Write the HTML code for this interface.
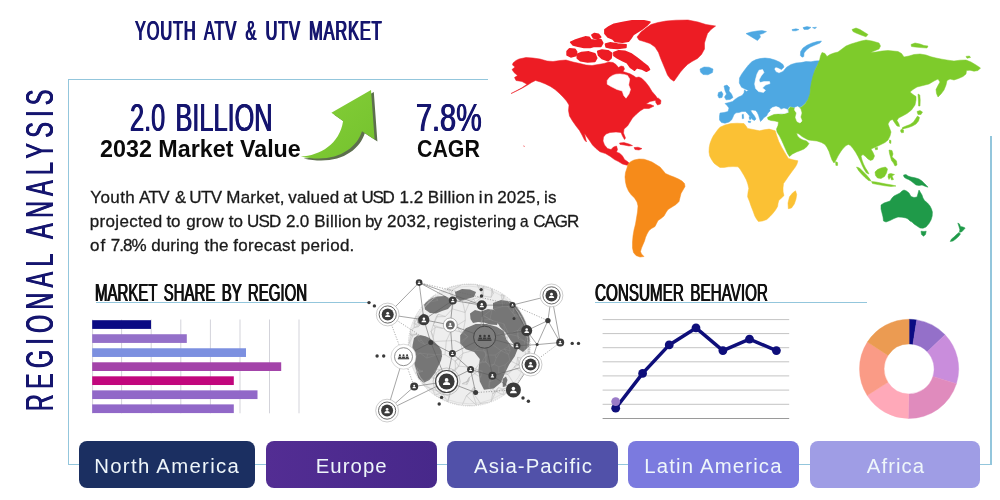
<!DOCTYPE html>
<html lang="en">
<head>
<meta charset="utf-8">
<title>Youth ATV &amp; UTV Market - Regional Analysis</title>
<style>
html,body{margin:0;padding:0;background:#fff}
body{font-family:"Liberation Sans",sans-serif}
#page{position:relative;width:1000px;height:500px;overflow:hidden;background:#fff}
.abs{position:absolute;display:block}
.ln{position:absolute;background:#93c6dc}
.t{position:absolute;margin:0;padding:0;white-space:nowrap;line-height:1;font-weight:400;transform-origin:0 0}
.cond{text-shadow:0.65px 0 0 currentColor,-0.65px 0 0 currentColor}
.c1{text-shadow:1px 0 0 currentColor,-1px 0 0 currentColor}
.cond2{text-shadow:0.6px 0 0 currentColor,-0.6px 0 0 currentColor}
.para{position:absolute;left:0;top:0;margin:0;width:600px;height:0}
.pl{-webkit-text-stroke:0.3px #1a1a1a}
.btn{position:absolute;top:441px;height:46.7px;border-radius:8px}
</style>
</head>
<body>
<div id="page">
<div class="ln" style="left:68px;top:78.7px;width:419.5px;height:1.25px"></div>
<div class="ln" style="left:67.95px;top:78.7px;width:1.25px;height:386.4px"></div>
<div class="ln" style="left:67.95px;top:463.9px;width:923.6px;height:1.25px"></div>
<div class="ln" style="left:990.3px;top:136px;width:1.25px;height:329.1px"></div>
<h1 class="t cond c1" style="left:135.24px;top:16.00px;font-size:28.34px;color:#15156f;transform:scaleX(0.5745);letter-spacing:1.600px;word-spacing:5px;">YOUTH ATV &amp; UTV MARKET</h1>
<div class="t cond vert" style="left:0;top:0;font-size:38.95px;letter-spacing:8.738px;color:#15156f;transform:translate(21.42px,411.05px) rotate(-90deg) scaleX(0.6000);">REGIONAL ANALYSIS</div>
<div class="t cond" style="left:129.60px;top:99.00px;font-size:38.95px;color:#15156f;transform:scaleX(0.6502);word-spacing:5px;">2.0 BILLION</div>
<div class="t " style="left:100.26px;top:138.00px;font-size:23.26px;color:#0a0a0a;transform:scaleX(1.0023);font-weight:700;">2032 Market Value</div>
<div class="t cond" style="left:415.73px;top:98.00px;font-size:39.24px;color:#15156f;transform:scaleX(0.7357);">7.8%</div>
<div class="t " style="left:417.25px;top:138.00px;font-size:23.26px;color:#0a0a0a;transform:scaleX(0.9185);font-weight:700;">CAGR</div>
<p class="para"><span class="t pl" style="left:90.30px;top:189.00px;font-size:17.01px;color:#1a1a1a;letter-spacing:0.383px;">Youth</span> <span class="t pl" style="left:139.12px;top:189.00px;font-size:17.01px;color:#1a1a1a;letter-spacing:-0.680px;">ATV</span> <span class="t pl" style="left:174.80px;top:189.00px;font-size:17.01px;color:#1a1a1a;transform:scaleX(0.9772);">&amp;</span> <span class="t pl" style="left:189.35px;top:189.00px;font-size:17.01px;color:#1a1a1a;letter-spacing:-0.615px;">UTV</span> <span class="t pl" style="left:226.29px;top:189.00px;font-size:17.01px;color:#1a1a1a;letter-spacing:0.237px;">Market,</span> <span class="t pl" style="left:288.31px;top:189.00px;font-size:17.01px;color:#1a1a1a;letter-spacing:0.165px;">valued</span> <span class="t pl" style="left:343.30px;top:189.00px;font-size:17.01px;color:#1a1a1a;letter-spacing:-0.165px;">at</span> <span class="t pl" style="left:361.56px;top:189.00px;font-size:17.01px;color:#1a1a1a;letter-spacing:-1.285px;">USD</span> <span class="t pl" style="left:399.54px;top:189.00px;font-size:17.01px;color:#1a1a1a;letter-spacing:0.064px;">1.2</span> <span class="t pl" style="left:427.78px;top:189.00px;font-size:17.01px;color:#1a1a1a;letter-spacing:0.278px;">Billion</span> <span class="t pl" style="left:478.65px;top:189.00px;font-size:17.01px;color:#1a1a1a;letter-spacing:1.379px;">in</span> <span class="t pl" style="left:497.16px;top:189.00px;font-size:17.01px;color:#1a1a1a;letter-spacing:0.180px;">2025,</span> <span class="t pl" style="left:544.04px;top:189.00px;font-size:17.01px;color:#1a1a1a;letter-spacing:0.246px;">is</span> <span class="t pl" style="left:89.75px;top:213.00px;font-size:17.01px;color:#1a1a1a;letter-spacing:0.325px;">projected</span> <span class="t pl" style="left:166.44px;top:213.00px;font-size:17.01px;color:#1a1a1a;letter-spacing:-0.116px;">to</span> <span class="t pl" style="left:186.20px;top:213.00px;font-size:17.01px;color:#1a1a1a;letter-spacing:0.172px;">grow</span> <span class="t pl" style="left:228.67px;top:213.00px;font-size:17.01px;color:#1a1a1a;letter-spacing:0.115px;">to</span> <span class="t pl" style="left:246.89px;top:213.00px;font-size:17.01px;color:#1a1a1a;letter-spacing:-0.690px;">USD</span> <span class="t pl" style="left:285.99px;top:213.00px;font-size:17.01px;color:#1a1a1a;letter-spacing:-0.154px;">2.0</span> <span class="t pl" style="left:314.29px;top:213.00px;font-size:17.01px;color:#1a1a1a;letter-spacing:0.250px;">Billion</span> <span class="t pl" style="left:364.98px;top:213.00px;font-size:17.01px;color:#1a1a1a;letter-spacing:-0.653px;">by</span> <span class="t pl" style="left:386.88px;top:213.00px;font-size:17.01px;color:#1a1a1a;letter-spacing:0.348px;">2032,</span> <span class="t pl" style="left:433.69px;top:213.00px;font-size:17.01px;color:#1a1a1a;letter-spacing:0.317px;">registering</span> <span class="t pl" style="left:519.98px;top:213.00px;font-size:17.01px;color:#1a1a1a;transform:scaleX(0.9044);">a</span> <span class="t pl" style="left:533.14px;top:213.00px;font-size:17.01px;color:#1a1a1a;letter-spacing:-0.993px;">CAGR</span> <span class="t pl" style="left:89.99px;top:237.00px;font-size:17.01px;color:#1a1a1a;letter-spacing:0.997px;">of</span> <span class="t pl" style="left:110.76px;top:237.00px;font-size:17.01px;color:#1a1a1a;letter-spacing:-0.949px;">7.8%</span> <span class="t pl" style="left:151.31px;top:237.00px;font-size:17.01px;color:#1a1a1a;letter-spacing:0.079px;">during</span> <span class="t pl" style="left:204.50px;top:237.00px;font-size:17.01px;color:#1a1a1a;letter-spacing:0.185px;">the</span> <span class="t pl" style="left:233.32px;top:237.00px;font-size:17.01px;color:#1a1a1a;letter-spacing:0.255px;">forecast</span> <span class="t pl" style="left:300.73px;top:237.00px;font-size:17.01px;color:#1a1a1a;letter-spacing:0.274px;">period.</span></p>
<h2 class="t cond2" style="left:95.11px;top:282.00px;font-size:23.26px;color:#111;transform:scaleX(0.6451);word-spacing:3.5px;">MARKET SHARE BY REGION</h2>
<div class="ln" style="left:95.5px;top:301.7px;width:272.5px;height:1.3px"></div>
<h2 class="t cond2" style="left:594.64px;top:282.00px;font-size:23.26px;color:#111;transform:scaleX(0.6548);word-spacing:3.5px;">CONSUMER BEHAVIOR</h2>
<div class="ln" style="left:595px;top:301.7px;width:271.5px;height:1.3px"></div>
<svg class="abs" style="left:85px;top:315px" width="225" height="104" viewBox="85 315 225 104"><line x1="92.6" y1="319.5" x2="92.6" y2="413.3" stroke="#d3d3da" stroke-width="1"/><line x1="121.6" y1="319.5" x2="121.6" y2="413.3" stroke="#d3d3da" stroke-width="1"/><line x1="151.2" y1="319.5" x2="151.2" y2="413.3" stroke="#d3d3da" stroke-width="1"/><line x1="180.8" y1="319.5" x2="180.8" y2="413.3" stroke="#d3d3da" stroke-width="1"/><line x1="210.4" y1="319.5" x2="210.4" y2="413.3" stroke="#d3d3da" stroke-width="1"/><line x1="240" y1="319.5" x2="240" y2="413.3" stroke="#d3d3da" stroke-width="1"/><line x1="269.5" y1="319.5" x2="269.5" y2="413.3" stroke="#d3d3da" stroke-width="1"/><line x1="299" y1="319.5" x2="299" y2="413.3" stroke="#d3d3da" stroke-width="1"/><rect x="92.2" y="320.20" width="58.8" height="8.7" fill="#0b0b83"/><rect x="92.2" y="334.23" width="94.6" height="8.7" fill="#9470c9"/><rect x="92.2" y="348.26" width="153.8" height="8.7" fill="#7c90e0"/><rect x="92.2" y="362.29" width="189.0" height="8.7" fill="#a343a9"/><rect x="92.2" y="376.32" width="141.6" height="8.7" fill="#c1077d"/><rect x="92.2" y="390.35" width="165.3" height="8.7" fill="#9168c8"/><rect x="92.2" y="404.38" width="141.6" height="8.7" fill="#9168c8"/></svg>
<svg class="abs" style="left:598px;top:312px" width="200" height="112" viewBox="598 312 200 112"><line x1="602.6" y1="319.6" x2="789.2" y2="319.6" stroke="#c4c4c4" stroke-width="1"/><line x1="602.6" y1="333.6" x2="789.2" y2="333.6" stroke="#c4c4c4" stroke-width="1"/><line x1="602.6" y1="347.7" x2="789.2" y2="347.7" stroke="#c4c4c4" stroke-width="1"/><line x1="602.6" y1="361.8" x2="789.2" y2="361.8" stroke="#c4c4c4" stroke-width="1"/><line x1="602.6" y1="375.9" x2="789.2" y2="375.9" stroke="#c4c4c4" stroke-width="1"/><line x1="602.6" y1="390.1" x2="789.2" y2="390.1" stroke="#c4c4c4" stroke-width="1"/><line x1="602.6" y1="404.3" x2="789.2" y2="404.3" stroke="#c4c4c4" stroke-width="1"/><line x1="602.6" y1="418.5" x2="789.2" y2="418.5" stroke="#9a9a9a" stroke-width="1"/><polyline fill="none" stroke="#0e0e7a" stroke-width="3.5" stroke-linejoin="round" points="615.7,408.2 642.6,373.4 669.2,344.9 696,327.9 722.9,350.6 749.5,339.1 776.4,350.6"/><circle cx="615.7" cy="408.2" r="4.4" fill="#0e0e7a"/><circle cx="642.6" cy="373.4" r="4.4" fill="#0e0e7a"/><circle cx="669.2" cy="344.9" r="4.4" fill="#0e0e7a"/><circle cx="696" cy="327.9" r="4.4" fill="#0e0e7a"/><circle cx="722.9" cy="350.6" r="4.4" fill="#0e0e7a"/><circle cx="749.5" cy="339.1" r="4.4" fill="#0e0e7a"/><circle cx="776.4" cy="350.6" r="4.4" fill="#0e0e7a"/><circle cx="615.7" cy="401.6" r="4.4" fill="#9a7bc8"/></svg>
<svg class="abs" style="left:855px;top:315px" width="110" height="110" viewBox="855 315 110 110"><path d="M909.10 319.30A49.6 49.6 0 0 1 916.69 319.88L912.92 344.19A25.0 25.0 0 0 0 909.10 343.90Z" fill="#0b0b83" stroke="#0b0b83" stroke-width="0.4"/><path d="M916.69 319.88A49.6 49.6 0 0 1 945.08 334.76L927.23 351.69A25.0 25.0 0 0 0 912.92 344.19Z" fill="#9470c9" stroke="#9470c9" stroke-width="0.4"/><path d="M945.08 334.76A49.6 49.6 0 0 1 956.40 383.82L932.94 376.42A25.0 25.0 0 0 0 927.23 351.69Z" fill="#c98ddc" stroke="#c98ddc" stroke-width="0.4"/><path d="M956.40 383.82A49.6 49.6 0 0 1 908.23 418.49L908.66 393.90A25.0 25.0 0 0 0 932.94 376.42Z" fill="#e08bbd" stroke="#e08bbd" stroke-width="0.4"/><path d="M908.23 418.49A49.6 49.6 0 0 1 867.22 395.48L887.99 382.30A25.0 25.0 0 0 0 908.66 393.90Z" fill="#ffa9b9" stroke="#ffa9b9" stroke-width="0.4"/><path d="M867.22 395.48A49.6 49.6 0 0 1 867.36 342.10L888.06 355.39A25.0 25.0 0 0 0 887.99 382.30Z" fill="#fa9b86" stroke="#fa9b86" stroke-width="0.4"/><path d="M867.36 342.10A49.6 49.6 0 0 1 909.10 319.30L909.10 343.90A25.0 25.0 0 0 0 888.06 355.39Z" fill="#eb9b52" stroke="#eb9b52" stroke-width="0.4"/></svg>
<svg class="abs" style="left:500px;top:10px" width="500" height="255" viewBox="500 10 500 255"><path d="M513 63L516 60.5L519 59L526 57.5L533 58L540 59L547 61L553 61.5L560 60.5L566 60L573 62L580 63.5L586 65L592 65.5L598 64.5L604 63.5L609 62L613 62.5L616 64.5L618.5 67.5L621 66L623.5 66.5L624.5 69L623 71.5L626 72.5L630 73.8L634 76L636 77.5L639 77L642 78.5L645.5 82L649 86.5L652 91.5L655.5 95.5L658 99L655 100.5L650 101.5L646 104L650.5 104.5L654 106L649 108.5L644 108.5L640 111L636 114.5L632.5 118L630 122L627.5 126L624 129L623.5 133L625.5 138L624.5 139.5L622.5 136L621 132.5L616 132L610 132.5L606 134L603.5 137L603 141L604.5 145L607.5 148.5L611 149.5L613.5 147L616.5 146L617.5 149.5L616.5 152L620 153.4L622.5 156L624.5 159.4L628 162L630 164L627 165.2L622.5 164L618.5 161.6L614.5 159.6L610 156.2L605.5 153.6L600 151.8L596 148.5L592.5 145L589.5 140.5L587 137L584.5 133.5L585.5 138L586.5 142L584.5 140L582 135L579.5 130.5L576 126L572.5 121L569.5 116L568.5 110.5L569 105L566.5 101L563 97L559 93L555 89.5L550.5 86.5L545.5 84L540.5 82L535.5 80.5L531.5 82.5L528 84.8L522 88.2L516 91.2L511 93.6L516 91L522 87.8L527 84.2L522 81.5L516 80.5L514.5 77.5L517.5 75.5L514 72.5L512 69.5L515 67L512.5 65Z" fill="#ed1c24" stroke="#ed1c24" stroke-width="0.5" stroke-linejoin="round"/><path d="M605 29.8L609.2 26.8L614 24.4L622.4 22.6L632 21L644 21L649.8 22.2L646.4 25.6L641.6 29.2L636.8 32.2L633.2 34.6L630.8 38.2L628.4 41.2L622.4 42.2L615.2 41.4L612.8 38.8L608 37L605 33.4ZM605.6 44.2L610.4 42.9L617.6 44.2L626 44.8L625.8 47.4L617.6 48.4L610.4 47.8L606.2 46.8ZM570.8 42.2L575.6 40L581.6 38.2L585.2 37L589 37.4L591 40L595 40.5L600.8 39.6L602.6 43L600.8 46.4L593.6 46.4L590 47.4L584 47.4L578 46.2L573.2 44.8ZM592 35L594.5 33.6L598.4 34.4L600.6 37L597.5 38.6L593.5 37.8ZM567.2 51.4L569.6 49L575 49.4L576.6 52L575.4 55.6L570.8 56.8L567.2 55ZM577.4 54.4L581.6 52.6L588.8 52L594.8 53.8L596.6 58L594.8 61.4L587.6 61.8L580.4 60.6L577.4 58ZM597.8 51.4L602 50.2L608 50.8L611.6 53.2L611 58L608 60.6L602 58.4L598.6 55ZM614 52.6L618.8 50.8L624.8 51.4L630.8 53.8L636.8 58L642.8 62.8L647.6 66.4L649.4 69.4L646.4 71.2L641.6 68.8L636.8 67.6L634.4 70L630.8 67.6L627.2 62.8L622.4 60.4L617.6 58L614 55.6Z" fill="#ed1c24" stroke="#ed1c24" stroke-width="1.8" stroke-linejoin="round"/><path d="M655.5 99L658.5 98.2L661 100.5L660.5 104L657.5 105L655.8 102.5ZM637 37L641 32L646 28L651 24.5L658 22.5L666 21L676 20.2L688 20L698 22L706 24.5L715.6 26L711 29.5L707.5 33.5L706 38L704.5 43L704.5 49L701.5 54.5L697.5 58.5L692 61.5L687.5 64.5L684 68L680.5 72L677 77L674 81.2L670.5 79L667.5 75L665.5 70L663 64L660.5 58L658.5 52.5L655 47L650 43.5L644 41.5L639 40ZM619.5 143L624 142.6L629 144L632.5 145.6L629 146L624 145L620 144.4ZM634 147.6L638 147.2L642 148.6L639 150L635 149.5Z" fill="#ed1c24" stroke="#ed1c24" stroke-width="0.5" stroke-linejoin="round"/><path d="M523.6 145.6L524.6 146.2L524 146.8Z" fill="#ed1c24" stroke="#ed1c24" stroke-width="0.2" stroke-linejoin="round"/><path d="M607.2 80.5L609.5 77.5L612.5 75.4L616 74.2L620 73.9L624 74.4L627.5 75.4L629.7 79L628.7 85L630.5 89.5L629 94L626 98.2L623.7 95.5L622.2 91L617 89.5L611 86.5L607.2 84.2Z" fill="#ffffff" stroke="#ffffff" stroke-width="0.5" stroke-linejoin="round"/><path d="M628 164L631 161.5L634 160L639 159L644 159.2L648 160.5L652 162L656 164.5L660 167L663 170.5L665.5 173.5L670 175.5L674 177L678.5 179L682 181L684.5 183.5L685 186.5L683 190L681 193.5L680 197.5L679 201.5L676 204.5L672 207L668 209.5L666 212.5L664 216L661 218.5L658 220.5L656.5 223.5L655 226.5L651.5 228.5L649 230.5L647 234L645.5 237.5L644.5 241L643 244.5L641.5 248L640.5 251.5L641.5 254L644 256.5L640 257L636 255.5L633.5 252.5L632.5 248L632.5 242L633 236L634 230L635.5 224L636.5 218L637.5 212L638 206L637 202L634.5 198L631 194.5L628.5 191L626.5 186.5L625.5 182L625 177L625.5 172.5L627 168Z" fill="#f68b1a" stroke="#f68b1a" stroke-width="0.5" stroke-linejoin="round"/><path d="M752 61.6L756 59.6L760 58.6L765 58L770 58.6L775 60L779.5 62L783 64.5L784 67L781.5 69.6L778.5 68L775.8 67L774.2 69L776 72L779 73.2L783 71.5L786.6 67.2L791 64.5L796 63L801 62.6L806 61.6L811 61.8L815 61L819.9 60.7L817.5 65L815 70L813.5 76L812 82L811 88L810.2 94L808.5 99L805 103.5L801.5 106.5L797.5 108L793.5 107.5L790 106.5L788 108.5L788.5 112L785 113L781 113.5L777 112.5L773.5 111L771 110L768 113L766.5 116L764 117.5L762.5 119.5L760.5 121.5L759.5 118.5L758.5 115L757 112L755.5 110.5L752.5 110L750.5 110.5L752.5 113.5L754.5 116L756 119L754.5 120.5L752.5 119.5L750 116.5L747.5 113.5L745.5 111.5L742 111.5L739 112.5L736 112.8L734 114.5L733 117L731.5 120L729 122L725 123.2L721.5 122.5L719.5 120L719.5 116L720 113L724 112.5L728 111.5L729 108L727 105.5L725 103.5L729 102.5L732.5 101.5L735.5 99L738.5 97L742 95.5L744 93L744.5 89.8L746.3 91.6L748.5 90.6L745.5 89.2L741.5 87.2L739.3 83L739.5 78L741.6 74.2L745 69.5L748.5 65Z" fill="#4ea8e2" stroke="#4ea8e2" stroke-width="0.5" stroke-linejoin="round"/><path d="M759 70.2L762.6 69.6L764 72.5L761.2 76L759 80L760 82.6L764 81.6L769.5 81.6L770 83.6L765.5 85L762.5 88L765.5 90.2L763.5 92.4L758.5 91.6L755.6 88.6L754.6 84L755.6 79L757 74Z" fill="#ffffff" stroke="#ffffff" stroke-width="0.5" stroke-linejoin="round"/><path d="M749 116.6L750.8 117L751.2 119.4L749.4 119.6ZM748 121L751 121.2L750.4 122.8L748.4 122.4ZM742 114.4L743.5 114.2L743.8 118.6L742.2 118.8Z" fill="#4ea8e2" stroke="#4ea8e2" stroke-width="0.3" stroke-linejoin="round"/><path d="M724 86L727 85L729.5 87.5L729 91L731.5 94L733 97.5L730 99.5L726 99.8L724.5 97L726.5 94L725 90.5ZM718.5 92.5L721.5 91.5L723 94L722 97.5L719 98L717.8 95.5ZM700 69L704 67L709 67.2L713 69L712.5 72.5L708 74.8L703 74.5L700.5 72ZM746 33.6L751 32L757 31L762 30.6L766.5 31.6L763 33.6L759.5 34.4L760.5 37L757.5 40.6L754 38.4L750 36ZM792 29.6L796 28.8L799 29.6L796 30.8L792.5 30.8ZM803 27.6L807 26.6L811 27.4L808 29.4L804 29.4ZM812.5 27.6L816.5 27.2L815 28.8ZM800.4 55.5L800.6 51.5L803 48L807 45.2L812 43L817 41.6L821.5 41L820 43L815 45L810 47.2L806.4 50L804 53L803.8 56.6L802 57.2Z" fill="#4ea8e2" stroke="#4ea8e2" stroke-width="0.5" stroke-linejoin="round"/><path d="M720 127.2L725 125L730.8 123.6L737 123.2L744 123.6L746 126L747.6 128.4L753 129.5L759.6 130.8L764 129.8L769.2 129.1L775.2 130.8L776.5 135L778.8 141.6L781.5 147L784.7 152.4L786.5 155.5L788.4 158.4L793 159.8L797.9 160.8L797 164L795.5 166.8L792 171.5L788.4 176.4L786 180L783.5 183.6L783 188L783.1 192L784 195.6L781.5 198L778.8 200.4L778 203.5L777.6 206.4L775.5 210L772.8 213.5L770 216.5L766.8 219.5L762.5 221L758.4 221.5L756.5 219L754.8 216L753 211L751.2 206.4L749.5 201.5L747.6 196.8L748 192.5L748.8 188.4L747.8 184L746.4 180L744 175.5L741.6 171.6L740 169L738 166.8L733 166.6L728.4 166.8L724 167.4L720 167.5L717 165.5L714 163.2L711.5 159.5L709.7 156L709 152L709.2 147.6L710 143.5L711.6 139.2L713.2 136L715.2 133.2L717.5 130ZM788.3 208.7L788 203L789.5 196.8L792.5 193L795.5 190.8L796.7 194.4L796 199L794.3 204L791.5 208Z" fill="#fbc134" stroke="#fbc134" stroke-width="0.5" stroke-linejoin="round"/><path d="M819.5 60.5L820.5 56L822 52.5L825 53.5L827 56.5L830 54.5L834 53L838 52L842 49L846 46L851 44L856 42.5L861 41L866 40L872 41L879 43L880.5 46L879 49L874 51L870.5 52.5L876 52L882 51L888 50.5L893 51L898 51.5L901.5 53.5L904 57L909 56L914 54.5L920 54L926 55L931 56.8L936 58L942 59.2L948 60.2L954 61L960 60.2L966 60L971 62L976 65L980.5 68L978 70.5L974 71.2L970 70.2L966.5 70.5L966 74L963 76.5L958.5 78.5L954 80L950 79L947 80.5L946 85L944 90L941 94L938 97L936.5 93.5L936 89.5L938 85.5L940 82L938 79L934 81L929 84L923 85.5L917 87L913 89.5L910 92L913 94.5L916 96.5L916 100L915 105L911.5 110L907 113.5L902.5 116L898.5 118L897 120.5L899 124L899.5 126.5L897 126L894.5 122.5L892.5 119.5L890 120.5L888 124L889.5 128L891 132L890 136L888 140L885 142.5L882 144L878 146L874.5 147.5L871 149L873 152.5L874.5 156L873 159.5L870.5 160.5L868 159L865.5 156.5L863 154.5L861 156L862 160L863.5 164L865.5 168L867.5 171L869 174L866.5 173L864.2 169.5L862.2 165.5L860.3 161L858 156.5L855.6 152.2L853 148.5L850.5 145.6L848.5 144.4L846 145.6L843 148.5L840.5 152L838 156L836 160L834 163L832 160L830.5 156L829 151.5L827 147.5L825 144.5L821.5 142.5L817 141L812.5 140.5L808.5 140L805.5 138.5L802 136.5L799 134L796.5 133L797.5 136L800 138.5L803 140L806.5 141L809 143.5L807 146.5L804 149L800.5 150.5L796.5 152L792.5 154L789.5 156.5L787.5 153.5L785.5 149L783.5 144.5L781.5 140L779.5 136L777 132L776.5 129L778 125.5L778.5 122L775 121L771 120.5L768 119.5L767.5 117.5L770.5 116L774 114.5L778 114L782 114.2L786 113.5L789 112.5L788.5 109L790.5 107L794 108L797.5 108.5L801.5 107L805 104L808 99.5L810 94L810.5 88L811.5 82L813 76L815 70L817.5 65Z" fill="#7ecb2b" stroke="#7ecb2b" stroke-width="0.5" stroke-linejoin="round"/><path d="M770 109.5L772.5 107.5L776 106.6L779 107.6L781 109.4L784 108.4L787.5 109.6L788 112.2L784.5 113.4L780 113.6L775.5 113L772 112ZM795 107.5L798 106.5L800.5 109L801.5 113L800.5 117L802 121L800 123L797 121.5L795.5 117.5L796.5 113L794.5 110Z" fill="#ffffff" stroke="#ffffff" stroke-width="0.5" stroke-linejoin="round"/><path d="M852 29.5L856 28L860 29.5L864 32L868 34.5L866 36.8L861 35L856 33L853 31.5ZM911 44.5L915 43L920 44L924 45.5L928 46L927 48L921 47.6L915 47L911.5 46.5ZM966 56.4L969.5 56L970.5 57.5L967 58.2ZM918 94L919.8 95L920.2 100L920 106L918.6 106L918.4 100ZM917 111.5L920 110.5L922.5 112L921 114.5L918 114.5ZM917.5 116L919.5 117.5L918.5 121L916 124L912.5 126L908.5 127.5L904.5 128.5L902 129.5L902.5 127.5L906 126L910 124.5L913.5 122L915.5 119ZM901 129.5L903.5 130L903.5 132.5L901.5 132.8L900.5 131ZM889.5 140L891 140.5L890.8 143.5L889.5 143ZM875 147.8L877.5 147.5L877.5 149.5L875.5 149.8ZM889 150L892 150.5L893 154L892 157L894 158.5L896.5 161L897 165L895 166L893.5 163L891.5 160.5L890.5 157L889.5 153.5ZM856.5 167L859.5 168L863 171.5L866.5 175L869.5 178.5L871 181L868.5 180.5L865 177.5L861.5 174L858.5 170.5ZM871.5 181.5L876 182L881 183L886 184L892 185L896 186L891 186.5L885 185.8L878 184.6L872.5 183.5ZM875 172L877.5 169.5L881 168L885.5 167L887.5 169L886.5 173L884.5 176.5L881 178.5L877.5 178L875.5 175.5ZM888.5 174L891 173.5L894.5 174.5L892 176L893.5 179.5L891.5 180L890.5 177L889 179.5L888 177ZM835.5 161.6L837.6 162.6L837.6 165.4L835.9 165.4Z" fill="#7ecb2b" stroke="#7ecb2b" stroke-width="0.5" stroke-linejoin="round"/><path d="M881 205L884 203L887 202L890 201L892 198L894 196L897 194.5L900 193L902 191L904 190L906.5 191L909 193L911 196.5L914 197.5L917 197L918 193.5L919 190L920.5 192.5L922 195L923 198L924.5 200.5L927.5 203L930 206L931.5 209L932.4 212L932.2 216L931 220L929 223.5L926 227L923 228.2L920 228L917 226L914 224L912 222L910 221L908 219L906 218L902 217.2L898 217L894 218.5L890 220.5L886 222L883.5 221L883 217L882 213L881 209ZM921 231.2L924 231.5L926.2 231.2L925.5 234.5L923.5 236.2L921.5 234.5ZM903.5 175L906 174.6L908 176L911 177L915 177.8L919 179L922 181L924.5 183.5L926.5 185.5L928 187.2L925 186.2L922 185L919 185.5L916 185L913.5 183L911 181L908.5 179.5L906 178.5L904 177ZM957.8 223L959.5 224L960.5 226.5L963 227L965.2 228L963.5 230L961.5 232L959.5 232.2L959.8 229.5L958.8 226ZM959 232.5L960.5 234L958.5 236.5L956 238.8L953 241L950.2 241.5L951.5 239L954 237L956.5 234.5Z" fill="#1f9a49" stroke="#1f9a49" stroke-width="0.5" stroke-linejoin="round"/></svg>
<svg class="abs" style="left:295px;top:84px" width="90" height="82" viewBox="295 84 90 82">
<defs><linearGradient id="ag" x1="0" y1="0" x2="1" y2="1"><stop offset="0" stop-color="#86cf38"/><stop offset="1" stop-color="#74c22e"/></linearGradient></defs>
<path d="M300.8 156.5C320 155.6 339.6 144.2 343.1 121L331.4 112.8L371 89.9L374.6 139.4L362 131.3C356 150 334 164 300.8 156.5Z" fill="#5d6f4d" transform="translate(2.8 2)"/>
<path d="M300.8 156.5C320 155.6 339.6 144.2 343.1 121L331.4 112.8L371 89.9L374.6 139.4L362 131.3C356 150 334 164 300.8 156.5Z" fill="url(#ag)"/>
</svg>

<svg class="abs" style="left:365px;top:275px" width="225" height="155" viewBox="365 275 225 155"><defs><clipPath id="gc"><circle cx="469.3" cy="345.0" r="60.7"/></clipPath></defs><circle cx="469.3" cy="345.0" r="61.0" fill="#eeeeee"/><g clip-path="url(#gc)"><path d="M458.7 366.2L455.5 370.3M458.7 366.2L455.2 361.1M458.7 366.2L466.5 366.8M459.7 331.7L463.0 332.3M459.7 331.7L457.0 325.5M459.7 331.7L451.6 329.6M433.3 336.8L433.9 341.5M433.3 336.8L431.1 331.5M433.3 336.8L435.3 327.1M509.9 360.5L508.4 354.4M509.9 360.5L505.1 364.8M509.9 360.5L516.7 364.0M508.4 354.4L510.3 350.9M508.4 354.4L504.2 349.0M485.9 352.8L486.0 355.0M485.9 352.8L483.9 351.0M485.9 352.8L485.9 362.0M420.0 370.3L417.9 372.3M420.0 370.3L423.1 371.1M420.0 370.3L418.0 372.9M489.8 365.2L490.2 367.0M489.8 365.2L494.2 364.2M489.8 365.2L485.9 362.0M428.0 302.4L428.1 304.3M428.0 302.4L423.6 304.5M428.0 302.4L432.7 296.5M435.3 327.1L433.2 325.2M435.3 327.1L431.1 331.5M435.3 327.1L442.8 328.4M482.3 343.0L490.1 342.4M482.3 343.0L483.9 351.0M482.3 343.0L485.9 352.8M490.0 319.5L493.5 320.9M490.0 319.5L483.5 315.7M490.0 319.5L482.2 320.1M482.2 361.5L479.6 363.2M482.2 361.5L485.9 362.0M482.2 361.5L486.0 355.0M449.5 396.4L447.7 402.0M449.5 396.4L442.2 392.4M449.5 396.4L451.0 387.9M488.9 387.2L489.0 382.1M488.9 387.2L492.8 393.8M488.9 387.2L496.0 391.5M445.4 316.5L438.2 314.3M445.4 316.5L436.3 316.8M445.4 316.5L452.4 308.9M454.7 340.5L459.6 342.3M454.7 340.5L461.0 343.8M454.7 340.5L446.3 340.9M495.1 355.1L496.2 358.2M495.1 355.1L501.0 350.6M495.1 355.1L486.0 355.0M452.4 308.9L453.5 300.7M452.4 308.9L465.1 312.5M451.0 387.9L449.1 384.0M451.0 387.9L442.2 392.4M437.3 354.7L445.0 354.6M437.3 354.7L427.8 354.0M437.3 354.7L426.7 358.1M483.3 296.0L481.5 288.5M483.3 296.0L491.1 297.3M483.3 296.0L483.7 286.6M471.0 391.2L472.1 391.6M471.0 391.2L473.7 387.2M471.0 391.2L475.7 388.4M412.9 336.0L411.2 335.2M412.9 336.0L409.9 334.4M412.9 336.0L416.6 334.1M465.1 312.5L465.3 320.2M465.1 312.5L469.3 302.8M465.1 312.5L462.2 300.0M490.1 342.4L493.0 345.0M490.1 342.4L492.2 338.8M423.1 371.1L417.9 372.3M423.1 371.1L418.0 372.9M493.9 379.8L490.5 379.0M493.9 379.8L489.0 382.1M493.9 379.8L498.6 373.1M517.7 357.2L521.5 358.3M517.7 357.2L516.7 364.0M517.7 357.2L519.1 364.4M473.5 299.0L475.4 302.0M473.5 299.0L469.3 302.8M473.5 299.0L483.3 296.0M493.5 320.9L503.9 323.8M493.5 320.9L483.5 315.7M453.5 300.7L462.2 300.0M453.5 300.7L451.4 290.8M433.2 325.2L431.1 331.5M433.2 325.2L436.3 316.8M501.1 294.9L504.0 294.8M501.1 294.9L504.7 295.6M501.1 294.9L502.2 301.2M420.2 353.1L427.8 354.0M420.2 353.1L426.7 358.1M420.2 353.1L410.7 353.1M516.7 364.0L519.1 364.4M516.7 364.0L514.0 367.1M432.7 296.5L434.6 294.8M432.7 296.5L438.1 300.3M483.5 315.7L482.3 316.8M483.5 315.7L482.2 320.1M431.7 377.8L438.0 378.6M431.7 377.8L425.2 381.0M431.7 377.8L435.1 370.4M510.3 350.9L508.8 346.0M510.3 350.9L504.2 349.0M479.6 363.2L485.9 362.0M479.6 363.2L475.6 368.8M519.1 364.4L514.0 367.1M519.1 364.4L521.5 358.3M490.2 367.0L494.2 364.2M490.2 367.0L485.9 362.0M425.2 381.0L421.0 379.5M425.2 381.0L423.6 385.5M505.1 364.8L498.9 366.9M505.1 364.8L505.2 373.2M414.7 327.5L418.5 326.6M414.7 327.5L414.1 323.4M414.7 327.5L410.1 330.4M493.2 293.6L491.1 297.3M493.2 293.6L492.1 288.9M493.2 293.6L490.9 288.0M462.3 383.7L467.0 384.4M462.3 383.7L466.7 381.8M462.3 383.7L468.8 380.9M433.1 389.5L434.6 395.2M433.1 389.5L442.2 392.4M433.1 389.5L423.6 385.5M492.2 338.8L493.0 345.0M492.2 338.8L498.4 334.0M482.4 371.3L478.4 371.0M482.4 371.3L480.8 377.4M482.4 371.3L475.6 368.8M473.7 387.2L475.7 388.4M473.7 387.2L472.1 391.6M442.8 328.4L451.6 329.6M442.8 328.4L433.2 325.2M508.8 346.0L504.2 349.0M508.8 346.0L507.1 338.2M438.0 378.6L442.6 381.5M438.0 378.6L444.2 377.8M517.8 330.3L517.6 336.1M517.8 330.3L518.4 338.9M517.8 330.3L508.6 334.0M421.6 340.3L418.7 341.1M421.6 340.3L424.8 344.5M421.6 340.3L416.6 334.1M463.0 332.3L467.8 336.6M463.0 332.3L457.0 325.5M512.8 313.2L514.6 314.2M512.8 313.2L514.8 316.0M512.8 313.2L507.7 306.4M507.7 306.4L502.6 306.5M507.7 306.4L513.8 304.7M507.7 306.4L515.0 304.5M439.2 369.1L435.1 370.4M439.2 369.1L438.0 378.6M439.2 369.1L444.2 377.8M508.0 374.4L505.2 373.2M508.0 374.4L512.0 370.2M508.0 374.4L498.6 373.1M483.9 351.0L486.0 355.0M475.6 368.8L478.4 371.0M475.6 368.8L474.7 373.6M461.8 356.8L462.9 353.2M461.8 356.8L455.2 361.1M461.8 356.8L458.7 366.2M493.0 345.0L501.0 350.6M498.9 366.9L494.2 364.2M498.9 366.9L498.6 373.1M525.6 354.1L528.2 353.6M525.6 354.1L521.5 358.3M525.6 354.1L528.5 359.6M451.6 329.6L457.0 325.5M468.8 380.9L466.7 381.8M468.8 380.9L468.9 378.0M468.8 380.9L467.0 384.4M455.2 361.1L455.5 370.3M504.7 295.6L504.0 294.8M504.7 295.6L502.2 301.2M427.8 354.0L426.7 358.1M486.0 355.0L485.9 362.0M452.0 371.2L455.5 370.3M452.0 371.2L458.7 366.2M452.0 371.2L444.2 377.8M481.0 323.4L481.4 325.9M481.0 323.4L482.2 320.1M481.0 323.4L482.3 316.8M528.2 353.6L528.5 359.6M528.2 353.6L521.5 358.3M446.3 340.9L433.9 341.5M446.3 340.9L451.6 329.6M459.6 342.3L461.0 343.8M459.6 342.3L467.8 336.6M409.9 334.4L411.2 335.2M409.9 334.4L410.1 330.4M502.6 306.5L502.2 301.2M502.6 306.5L492.0 309.4M466.7 381.8L467.0 384.4M466.7 381.8L468.9 378.0M496.0 391.5L492.8 393.8M496.0 391.5L498.5 387.6M496.0 391.5L503.0 389.1M416.6 334.1L411.2 335.2M416.6 334.1L409.9 334.4M492.1 288.9L490.9 288.0M492.1 288.9L491.1 297.3M475.7 388.4L472.1 391.6M462.9 353.2L461.0 343.8M462.9 353.2L455.2 361.1M501.0 350.6L504.2 349.0M501.0 350.6L508.4 354.4M466.4 395.7L471.0 391.2M466.4 395.7L472.1 391.6M466.4 395.7L461.9 405.6M508.6 334.0L504.7 334.7M508.6 334.0L507.1 338.2M508.6 334.0L517.6 336.1M525.2 321.6L523.3 316.7M525.2 321.6L528.5 330.4M525.2 321.6L517.8 330.3M504.7 334.7L507.1 338.2M504.7 334.7L498.4 334.0M474.7 373.6L478.4 371.0M474.7 373.6L469.6 377.1M428.1 304.3L423.6 304.5M428.1 304.3L432.7 296.5M492.0 309.4L490.0 319.5M492.0 309.4L483.5 315.7M438.1 300.3L434.6 294.8M438.1 300.3L428.0 302.4M512.0 370.2L514.0 367.1M512.0 370.2L505.2 373.2M514.8 316.0L514.6 314.2M514.8 316.0L523.3 316.7M469.3 302.8L475.4 302.0M469.3 302.8L462.2 300.0M492.8 393.8L498.5 387.6M442.2 392.4L434.6 395.2M421.0 379.5L423.6 385.5M421.0 379.5L418.0 372.9M465.3 320.2L457.0 325.5M465.3 320.2L463.0 332.3M514.6 314.2L523.3 316.7M503.0 389.1L498.5 387.6M503.0 389.1L508.8 387.7M503.0 389.1L504.0 395.2M518.4 338.9L517.6 336.1M518.4 338.9L524.8 341.5M442.6 381.5L444.2 377.8M442.6 381.5L449.1 384.0M474.3 350.3L483.9 351.0M474.3 350.3L482.3 343.0M474.3 350.3L462.9 353.2M517.6 336.1L524.8 341.5M411.2 335.2L410.1 330.4M417.2 368.0L420.0 370.3M417.2 368.0L417.9 372.3M417.2 368.0L418.0 372.9M482.2 320.1L482.3 316.8M468.9 378.0L469.6 377.1M508.8 387.7L515.0 385.5M508.8 387.7L504.0 395.2M444.2 377.8L449.1 384.0M419.1 316.0L415.3 316.7M419.1 316.0L414.1 323.4M419.1 316.0L420.1 324.9M418.0 372.9L417.9 372.3M418.0 372.9L415.3 373.3M424.8 344.5L418.7 341.1M424.8 344.5L433.9 341.5M445.0 354.6L455.2 361.1M445.0 354.6L446.3 340.9M523.8 346.3L524.8 341.5M523.8 346.3L530.3 345.0M523.8 346.3L525.6 354.1M489.0 382.1L490.5 379.0M462.2 300.0L473.5 299.0M418.5 326.6L420.1 324.9M418.5 326.6L414.1 323.4M505.2 373.2L498.6 373.1M469.6 377.1L468.8 380.9M469.6 377.1L466.7 381.8M475.4 302.0L483.3 296.0M420.1 324.9L414.7 327.5M420.1 324.9L414.1 323.4M503.9 323.8L504.7 334.7M503.9 323.8L508.6 334.0M436.3 316.8L438.2 314.3M418.7 341.1L416.6 334.1M410.7 353.1L410.1 359.6M410.7 353.1L408.3 345.0M451.4 290.8L447.7 288.0M451.4 290.8L461.9 284.4M498.4 334.0L507.1 338.2M481.4 325.9L482.2 320.1M481.4 325.9L482.3 316.8M496.2 358.2L494.2 364.2M496.2 358.2L501.0 350.6M481.5 288.5L483.7 286.6M481.5 288.5L476.7 284.4M513.8 304.7L515.0 304.5M513.8 304.7L512.8 313.2M480.6 403.5L476.7 405.6M480.6 403.5L490.9 402.0M480.6 403.5L472.1 391.6M435.1 370.4L438.0 378.6M524.8 341.5L530.3 345.0M490.5 379.0L488.9 387.2M433.9 341.5L431.1 331.5M480.8 377.4L478.4 371.0M480.8 377.4L474.7 373.6M467.8 336.6L459.7 331.7M467.8 336.6L461.0 343.8M438.2 314.3L433.2 325.2M525.0 368.8L523.3 373.3M525.0 368.8L519.1 364.4M525.0 368.8L516.7 364.0M483.7 286.6L476.7 284.4M483.7 286.6L490.9 288.0M466.5 366.8L475.6 368.8M466.5 366.8L474.7 373.6M417.9 372.3L415.3 373.3M530.3 345.0L528.2 353.6M528.5 359.6L521.5 358.3M523.3 373.3L519.1 364.4M523.3 373.3L514.0 367.1M515.0 385.5L503.0 389.1M515.0 385.5L508.0 374.4M504.0 395.2L496.0 391.5M490.9 402.0L492.8 393.8M490.9 402.0L496.0 391.5M476.7 405.6L466.4 395.7M476.7 405.6L472.1 391.6M461.9 405.6L476.7 405.6M461.9 405.6L447.7 402.0M447.7 402.0L442.2 392.4M447.7 402.0L451.0 387.9M434.6 395.2L447.7 402.0M415.3 373.3L420.0 370.3M410.1 359.6L417.2 368.0M410.1 359.6L420.2 353.1M408.3 345.0L412.9 336.0M408.3 345.0L411.2 335.2M415.3 316.7L414.1 323.4M415.3 316.7L420.1 324.9M423.6 304.5L432.7 296.5M434.6 294.8L428.0 302.4M447.7 288.0L453.5 300.7M447.7 288.0L461.9 284.4M461.9 284.4L476.7 284.4M476.7 284.4L483.3 296.0M504.0 294.8L502.2 301.2M515.0 304.5L512.8 313.2M528.5 330.4L517.8 330.3M528.5 330.4L524.8 341.5" stroke="#c4c4c4" stroke-width="0.5" fill="none"/><path d="M414 338L417.5 335.6L421 335.2L425.5 336.2L429.4 338L434.5 342L439.2 346.4L441.6 351L442 356.2L441 360.6L439.2 364.6L435 373L429.4 380L423.8 382.8L418.2 378.6L415.4 367.4L412.6 356.2L412 350L412.6 345Z" fill="#767676"/><path d="M460.2 335.2L465.8 328.2L475.6 324L486.8 324L496.6 326.8L503.6 331L506.4 339.4L512 346.4L517.6 349.2L514.8 356.2L509.2 364.6L505 373L500.8 382.8L493.8 388.4L484 389.8L479.8 381.4L478.4 370.2L479.8 359L474.2 352L465.8 349.2L460.2 343.6Z" fill="#767676"/><path d="M470 313.5L475 310L481 311.5L488 309L494 310L498 314L499 320L497 325L490 324.5L484 322.5L478 322L473 323L470.5 319Z" fill="#767676"/><path d="M455 292L462 289L470 289.5L476 292L474 297L467 299L460 301L456 297.5Z" fill="#767676"/><path d="M493 303L501 300L511 301.5L518 306L523 312L527 320L529.5 329L530.5 338L528.5 347L523 352L517 348L511 341L506 333L500 327L496 320L496 313L493 309Z" fill="#767676"/><path d="M424 304L430 299L437 296.5L445 296L450 299.5L452 304.5L448 309L442 311L436 313.5L430 313L425 309.5Z" fill="#767676"/><path d="M418 318L423 313.5L428 315.5L426 321L421 324.5L417.5 323Z" fill="#767676"/><path d="M502.5 379L506 376.5L507.5 380L505.5 386.5L502.8 387Z" fill="#767676"/><path d="M458.7 366.2L455.5 370.3M458.7 366.2L455.2 361.1M458.7 366.2L466.5 366.8M459.7 331.7L463.0 332.3M459.7 331.7L457.0 325.5M459.7 331.7L451.6 329.6M433.3 336.8L433.9 341.5M433.3 336.8L431.1 331.5M433.3 336.8L435.3 327.1M509.9 360.5L508.4 354.4M509.9 360.5L505.1 364.8M509.9 360.5L516.7 364.0M508.4 354.4L510.3 350.9M508.4 354.4L504.2 349.0M485.9 352.8L486.0 355.0M485.9 352.8L483.9 351.0M485.9 352.8L485.9 362.0M420.0 370.3L417.9 372.3M420.0 370.3L423.1 371.1M420.0 370.3L418.0 372.9M489.8 365.2L490.2 367.0M489.8 365.2L494.2 364.2M489.8 365.2L485.9 362.0M428.0 302.4L428.1 304.3M428.0 302.4L423.6 304.5M428.0 302.4L432.7 296.5M435.3 327.1L433.2 325.2M435.3 327.1L431.1 331.5M435.3 327.1L442.8 328.4M482.3 343.0L490.1 342.4M482.3 343.0L483.9 351.0M482.3 343.0L485.9 352.8M490.0 319.5L493.5 320.9M490.0 319.5L483.5 315.7M490.0 319.5L482.2 320.1M482.2 361.5L479.6 363.2M482.2 361.5L485.9 362.0M482.2 361.5L486.0 355.0M449.5 396.4L447.7 402.0M449.5 396.4L442.2 392.4M449.5 396.4L451.0 387.9M488.9 387.2L489.0 382.1M488.9 387.2L492.8 393.8M488.9 387.2L496.0 391.5M445.4 316.5L438.2 314.3M445.4 316.5L436.3 316.8M445.4 316.5L452.4 308.9M454.7 340.5L459.6 342.3M454.7 340.5L461.0 343.8M454.7 340.5L446.3 340.9M495.1 355.1L496.2 358.2M495.1 355.1L501.0 350.6M495.1 355.1L486.0 355.0M452.4 308.9L453.5 300.7M452.4 308.9L465.1 312.5M451.0 387.9L449.1 384.0M451.0 387.9L442.2 392.4M437.3 354.7L445.0 354.6M437.3 354.7L427.8 354.0M437.3 354.7L426.7 358.1M483.3 296.0L481.5 288.5M483.3 296.0L491.1 297.3M483.3 296.0L483.7 286.6M471.0 391.2L472.1 391.6M471.0 391.2L473.7 387.2M471.0 391.2L475.7 388.4M412.9 336.0L411.2 335.2M412.9 336.0L409.9 334.4M412.9 336.0L416.6 334.1M465.1 312.5L465.3 320.2M465.1 312.5L469.3 302.8M465.1 312.5L462.2 300.0M490.1 342.4L493.0 345.0M490.1 342.4L492.2 338.8M423.1 371.1L417.9 372.3M423.1 371.1L418.0 372.9M493.9 379.8L490.5 379.0M493.9 379.8L489.0 382.1M493.9 379.8L498.6 373.1M517.7 357.2L521.5 358.3M517.7 357.2L516.7 364.0M517.7 357.2L519.1 364.4M473.5 299.0L475.4 302.0M473.5 299.0L469.3 302.8M473.5 299.0L483.3 296.0M493.5 320.9L503.9 323.8M493.5 320.9L483.5 315.7M453.5 300.7L462.2 300.0M453.5 300.7L451.4 290.8M433.2 325.2L431.1 331.5M433.2 325.2L436.3 316.8M501.1 294.9L504.0 294.8M501.1 294.9L504.7 295.6M501.1 294.9L502.2 301.2M420.2 353.1L427.8 354.0M420.2 353.1L426.7 358.1M420.2 353.1L410.7 353.1M516.7 364.0L519.1 364.4M516.7 364.0L514.0 367.1M432.7 296.5L434.6 294.8M432.7 296.5L438.1 300.3M483.5 315.7L482.3 316.8M483.5 315.7L482.2 320.1M431.7 377.8L438.0 378.6M431.7 377.8L425.2 381.0M431.7 377.8L435.1 370.4M510.3 350.9L508.8 346.0M510.3 350.9L504.2 349.0M479.6 363.2L485.9 362.0M479.6 363.2L475.6 368.8M519.1 364.4L514.0 367.1M519.1 364.4L521.5 358.3M490.2 367.0L494.2 364.2M490.2 367.0L485.9 362.0M425.2 381.0L421.0 379.5M425.2 381.0L423.6 385.5M505.1 364.8L498.9 366.9M505.1 364.8L505.2 373.2M414.7 327.5L418.5 326.6M414.7 327.5L414.1 323.4M414.7 327.5L410.1 330.4M493.2 293.6L491.1 297.3M493.2 293.6L492.1 288.9M493.2 293.6L490.9 288.0M462.3 383.7L467.0 384.4M462.3 383.7L466.7 381.8M462.3 383.7L468.8 380.9M433.1 389.5L434.6 395.2M433.1 389.5L442.2 392.4M433.1 389.5L423.6 385.5M492.2 338.8L493.0 345.0M492.2 338.8L498.4 334.0M482.4 371.3L478.4 371.0M482.4 371.3L480.8 377.4M482.4 371.3L475.6 368.8M473.7 387.2L475.7 388.4M473.7 387.2L472.1 391.6M442.8 328.4L451.6 329.6M442.8 328.4L433.2 325.2M508.8 346.0L504.2 349.0M508.8 346.0L507.1 338.2M438.0 378.6L442.6 381.5M438.0 378.6L444.2 377.8M517.8 330.3L517.6 336.1M517.8 330.3L518.4 338.9M517.8 330.3L508.6 334.0M421.6 340.3L418.7 341.1M421.6 340.3L424.8 344.5M421.6 340.3L416.6 334.1M463.0 332.3L467.8 336.6M463.0 332.3L457.0 325.5M512.8 313.2L514.6 314.2M512.8 313.2L514.8 316.0M512.8 313.2L507.7 306.4M507.7 306.4L502.6 306.5M507.7 306.4L513.8 304.7M507.7 306.4L515.0 304.5M439.2 369.1L435.1 370.4M439.2 369.1L438.0 378.6M439.2 369.1L444.2 377.8M508.0 374.4L505.2 373.2M508.0 374.4L512.0 370.2M508.0 374.4L498.6 373.1M483.9 351.0L486.0 355.0M475.6 368.8L478.4 371.0M475.6 368.8L474.7 373.6M461.8 356.8L462.9 353.2M461.8 356.8L455.2 361.1M461.8 356.8L458.7 366.2M493.0 345.0L501.0 350.6M498.9 366.9L494.2 364.2M498.9 366.9L498.6 373.1M525.6 354.1L528.2 353.6M525.6 354.1L521.5 358.3M525.6 354.1L528.5 359.6M451.6 329.6L457.0 325.5M468.8 380.9L466.7 381.8M468.8 380.9L468.9 378.0M468.8 380.9L467.0 384.4M455.2 361.1L455.5 370.3M504.7 295.6L504.0 294.8M504.7 295.6L502.2 301.2M427.8 354.0L426.7 358.1M486.0 355.0L485.9 362.0M452.0 371.2L455.5 370.3M452.0 371.2L458.7 366.2M452.0 371.2L444.2 377.8M481.0 323.4L481.4 325.9M481.0 323.4L482.2 320.1M481.0 323.4L482.3 316.8M528.2 353.6L528.5 359.6M528.2 353.6L521.5 358.3M446.3 340.9L433.9 341.5M446.3 340.9L451.6 329.6M459.6 342.3L461.0 343.8M459.6 342.3L467.8 336.6M409.9 334.4L411.2 335.2M409.9 334.4L410.1 330.4M502.6 306.5L502.2 301.2M502.6 306.5L492.0 309.4M466.7 381.8L467.0 384.4M466.7 381.8L468.9 378.0M496.0 391.5L492.8 393.8M496.0 391.5L498.5 387.6M496.0 391.5L503.0 389.1M416.6 334.1L411.2 335.2M416.6 334.1L409.9 334.4M492.1 288.9L490.9 288.0M492.1 288.9L491.1 297.3M475.7 388.4L472.1 391.6M462.9 353.2L461.0 343.8M462.9 353.2L455.2 361.1M501.0 350.6L504.2 349.0M501.0 350.6L508.4 354.4M466.4 395.7L471.0 391.2M466.4 395.7L472.1 391.6M466.4 395.7L461.9 405.6M508.6 334.0L504.7 334.7M508.6 334.0L507.1 338.2M508.6 334.0L517.6 336.1M525.2 321.6L523.3 316.7M525.2 321.6L528.5 330.4M525.2 321.6L517.8 330.3M504.7 334.7L507.1 338.2M504.7 334.7L498.4 334.0M474.7 373.6L478.4 371.0M474.7 373.6L469.6 377.1M428.1 304.3L423.6 304.5M428.1 304.3L432.7 296.5M492.0 309.4L490.0 319.5M492.0 309.4L483.5 315.7M438.1 300.3L434.6 294.8M438.1 300.3L428.0 302.4M512.0 370.2L514.0 367.1M512.0 370.2L505.2 373.2M514.8 316.0L514.6 314.2M514.8 316.0L523.3 316.7M469.3 302.8L475.4 302.0M469.3 302.8L462.2 300.0M492.8 393.8L498.5 387.6M442.2 392.4L434.6 395.2M421.0 379.5L423.6 385.5M421.0 379.5L418.0 372.9M465.3 320.2L457.0 325.5M465.3 320.2L463.0 332.3M514.6 314.2L523.3 316.7M503.0 389.1L498.5 387.6M503.0 389.1L508.8 387.7M503.0 389.1L504.0 395.2M518.4 338.9L517.6 336.1M518.4 338.9L524.8 341.5M442.6 381.5L444.2 377.8M442.6 381.5L449.1 384.0M474.3 350.3L483.9 351.0M474.3 350.3L482.3 343.0M474.3 350.3L462.9 353.2M517.6 336.1L524.8 341.5M411.2 335.2L410.1 330.4M417.2 368.0L420.0 370.3M417.2 368.0L417.9 372.3M417.2 368.0L418.0 372.9M482.2 320.1L482.3 316.8M468.9 378.0L469.6 377.1M508.8 387.7L515.0 385.5M508.8 387.7L504.0 395.2M444.2 377.8L449.1 384.0M419.1 316.0L415.3 316.7M419.1 316.0L414.1 323.4M419.1 316.0L420.1 324.9M418.0 372.9L417.9 372.3M418.0 372.9L415.3 373.3M424.8 344.5L418.7 341.1M424.8 344.5L433.9 341.5M445.0 354.6L455.2 361.1M445.0 354.6L446.3 340.9M523.8 346.3L524.8 341.5M523.8 346.3L530.3 345.0M523.8 346.3L525.6 354.1M489.0 382.1L490.5 379.0M462.2 300.0L473.5 299.0M418.5 326.6L420.1 324.9M418.5 326.6L414.1 323.4M505.2 373.2L498.6 373.1M469.6 377.1L468.8 380.9M469.6 377.1L466.7 381.8M475.4 302.0L483.3 296.0M420.1 324.9L414.7 327.5M420.1 324.9L414.1 323.4M503.9 323.8L504.7 334.7M503.9 323.8L508.6 334.0M436.3 316.8L438.2 314.3M418.7 341.1L416.6 334.1M410.7 353.1L410.1 359.6M410.7 353.1L408.3 345.0M451.4 290.8L447.7 288.0M451.4 290.8L461.9 284.4M498.4 334.0L507.1 338.2M481.4 325.9L482.2 320.1M481.4 325.9L482.3 316.8M496.2 358.2L494.2 364.2M496.2 358.2L501.0 350.6M481.5 288.5L483.7 286.6M481.5 288.5L476.7 284.4M513.8 304.7L515.0 304.5M513.8 304.7L512.8 313.2M480.6 403.5L476.7 405.6M480.6 403.5L490.9 402.0M480.6 403.5L472.1 391.6M435.1 370.4L438.0 378.6M524.8 341.5L530.3 345.0M490.5 379.0L488.9 387.2M433.9 341.5L431.1 331.5M480.8 377.4L478.4 371.0M480.8 377.4L474.7 373.6M467.8 336.6L459.7 331.7M467.8 336.6L461.0 343.8M438.2 314.3L433.2 325.2M525.0 368.8L523.3 373.3M525.0 368.8L519.1 364.4M525.0 368.8L516.7 364.0M483.7 286.6L476.7 284.4M483.7 286.6L490.9 288.0M466.5 366.8L475.6 368.8M466.5 366.8L474.7 373.6M417.9 372.3L415.3 373.3M530.3 345.0L528.2 353.6M528.5 359.6L521.5 358.3M523.3 373.3L519.1 364.4M523.3 373.3L514.0 367.1M515.0 385.5L503.0 389.1M515.0 385.5L508.0 374.4M504.0 395.2L496.0 391.5M490.9 402.0L492.8 393.8M490.9 402.0L496.0 391.5M476.7 405.6L466.4 395.7M476.7 405.6L472.1 391.6M461.9 405.6L476.7 405.6M461.9 405.6L447.7 402.0M447.7 402.0L442.2 392.4M447.7 402.0L451.0 387.9M434.6 395.2L447.7 402.0M415.3 373.3L420.0 370.3M410.1 359.6L417.2 368.0M410.1 359.6L420.2 353.1M408.3 345.0L412.9 336.0M408.3 345.0L411.2 335.2M415.3 316.7L414.1 323.4M415.3 316.7L420.1 324.9M423.6 304.5L432.7 296.5M434.6 294.8L428.0 302.4M447.7 288.0L453.5 300.7M447.7 288.0L461.9 284.4M461.9 284.4L476.7 284.4M476.7 284.4L483.3 296.0M504.0 294.8L502.2 301.2M515.0 304.5L512.8 313.2M528.5 330.4L517.8 330.3M528.5 330.4L524.8 341.5" stroke="#b5b5b5" stroke-width="0.25" fill="none" opacity="0.6"/></g><circle cx="469.3" cy="345.0" r="61.0" fill="none" stroke="#bdbdbd" stroke-width="0.7" stroke-dasharray="1 1.2"/><circle cx="469.3" cy="345.0" r="58.8" fill="none" stroke="#d0d0d0" stroke-width="0.5"/><path d="M419.1 282.6L387.7 314.5M419.1 282.6L423.9 319.8M419.1 282.6L452.8 300.4M419.1 282.6L481.8 305.2M387.7 314.5L423.9 319.8M423.9 319.8L450.3 325M452.8 300.4L450.3 325M452.8 300.4L481.8 305.2M450.3 325L484.6 337.2M481.8 305.2L484.6 337.2M481.8 305.2L512.5 305M512.5 305L551.5 295.4M551.5 295.4L547.9 320.6M551.5 295.4L560.2 342.5M547.9 320.6L526.7 330.6M547.9 320.6L560.2 342.5M547.9 320.6L537.1 344.6M526.7 330.6L537.1 344.6M517 345.7L537.1 344.6M537.1 344.6L560.2 342.5M537.1 344.6L530.6 364.6M530.6 364.6L513.4 389.9M484.6 337.2L526.7 330.6M484.6 337.2L517 345.7M484.6 337.2L492.4 375.8M484.6 337.2L452.4 353.5M452.4 353.5L470.6 369.6M470.6 369.6L492.4 375.8M492.4 375.8L513.4 389.9M470.6 369.6L475.6 392.6M446.6 381.5L470.6 369.6M446.6 381.5L452.4 353.5M446.6 381.5L475.6 392.6M403.5 356.7L430.8 342.4M430.8 342.4L452.4 353.5M430.8 342.4L423.9 319.8M403.5 356.7L387.1 410.6M387.1 410.6L414.2 386.5M387.1 410.6L446.6 381.5M414.2 386.5L446.6 381.5M450.3 325L452.4 353.5M492.4 375.8L530.6 364.6M512.5 305L526.7 330.6M430.8 342.4L446.6 381.5M423.9 319.8L452.8 300.4" stroke="#5a5a5a" stroke-width="0.55" fill="none"/><path d="M387.7 314.5L403.5 356.7M403.5 356.7L414.2 386.5M512.5 305L547.9 320.6M530.6 364.6L560.2 342.5M387.7 314.5L430.8 342.4M526.7 330.6L530.6 364.6M475.6 392.6L513.4 389.9M419.1 282.6L512.5 305" stroke="#6a6a6a" stroke-width="0.55" stroke-dasharray="1.2 1.4" fill="none"/><circle cx="419.1" cy="282.6" r="3.3" fill="#3a3a3a"/><circle cx="419.1" cy="281.9" r="0.77" fill="#fff"/><path d="M417.62 284.03Q417.62 282.84 419.10 282.84Q420.59 282.84 420.59 284.03Z" fill="#fff"/><circle cx="387.7" cy="314.5" r="11.4" fill="#fff" stroke="#9a9a9a" stroke-width="0.5"/><circle cx="387.7" cy="314.5" r="8.6" fill="#fff" stroke="#555" stroke-width="0.9"/><circle cx="387.7" cy="314.5" r="6" fill="#3a3a3a"/><circle cx="387.7" cy="313.3" r="1.40" fill="#fff"/><path d="M385.00 317.09Q385.00 314.93 387.70 314.93Q390.40 314.93 390.40 317.09Z" fill="#fff"/><circle cx="403.5" cy="356.7" r="12.5" fill="#fff" stroke="#b5b5b5" stroke-width="0.5"/><circle cx="403.5" cy="356.7" r="9" fill="#fff" stroke="#777" stroke-width="0.8"/><circle cx="399.9" cy="355.3" r="1.01" fill="#3a3a3a"/><rect x="398.46" y="356.56" width="2.88" height="1.44" fill="#3a3a3a"/><circle cx="403.5" cy="355.3" r="1.01" fill="#3a3a3a"/><rect x="402.06" y="356.56" width="2.88" height="1.44" fill="#3a3a3a"/><circle cx="407.1" cy="355.3" r="1.01" fill="#3a3a3a"/><rect x="405.66" y="356.56" width="2.88" height="1.44" fill="#3a3a3a"/><rect x="397.88" y="358.14" width="11.23" height="1.15" fill="#3a3a3a"/><circle cx="387.1" cy="410.6" r="11.4" fill="#fff" stroke="#9a9a9a" stroke-width="0.5"/><circle cx="387.1" cy="410.6" r="8.6" fill="#fff" stroke="#555" stroke-width="0.9"/><circle cx="387.1" cy="410.6" r="6" fill="#3a3a3a"/><circle cx="387.1" cy="409.4" r="1.40" fill="#fff"/><path d="M384.40 413.19Q384.40 411.03 387.10 411.03Q389.80 411.03 389.80 413.19Z" fill="#fff"/><circle cx="414.2" cy="386.5" r="4" fill="#3a3a3a"/><circle cx="414.2" cy="385.7" r="0.94" fill="#fff"/><path d="M412.40 388.23Q412.40 386.79 414.20 386.79Q416.00 386.79 416.00 388.23Z" fill="#fff"/><circle cx="446.6" cy="381.5" r="13.5" fill="none" stroke="#9a9a9a" stroke-width="0.5"/><circle cx="446.6" cy="381.5" r="11" fill="#fff" stroke="#444" stroke-width="1.2"/><circle cx="446.6" cy="381.5" r="8" fill="#3a3a3a"/><circle cx="446.6" cy="379.9" r="1.87" fill="#fff"/><path d="M443.00 384.96Q443.00 382.08 446.60 382.08Q450.20 382.08 450.20 384.96Z" fill="#fff"/><circle cx="423.9" cy="319.8" r="5.5" fill="#3a3a3a"/><circle cx="423.9" cy="318.7" r="1.29" fill="#fff"/><path d="M421.42 322.18Q421.42 320.20 423.90 320.20Q426.38 320.20 426.38 322.18Z" fill="#fff"/><circle cx="452.8" cy="300.4" r="4" fill="#3a3a3a"/><circle cx="452.8" cy="299.6" r="0.94" fill="#fff"/><path d="M451.00 302.13Q451.00 300.69 452.80 300.69Q454.60 300.69 454.60 302.13Z" fill="#fff"/><circle cx="450.3" cy="325" r="7.0" fill="#fff" stroke="#888" stroke-width="0.6"/><circle cx="450.3" cy="325" r="4.5" fill="#6a6a6a"/><circle cx="450.3" cy="324.1" r="1.05" fill="#fff"/><path d="M448.28 326.94Q448.28 325.32 450.30 325.32Q452.32 325.32 452.32 326.94Z" fill="#fff"/><circle cx="481.8" cy="305.2" r="5" fill="#3a3a3a"/><circle cx="481.8" cy="304.2" r="1.17" fill="#fff"/><path d="M479.55 307.36Q479.55 305.56 481.80 305.56Q484.05 305.56 484.05 307.36Z" fill="#fff"/><circle cx="484.6" cy="337.2" r="11" fill="#7d7d7d" stroke="#3f3f3f" stroke-width="0.9"/><circle cx="480.2" cy="335.9" r="1.23" fill="#3a3a3a"/><rect x="478.44" y="337.52" width="3.52" height="1.76" fill="#3a3a3a"/><circle cx="484.6" cy="335.9" r="1.23" fill="#3a3a3a"/><rect x="482.84" y="337.52" width="3.52" height="1.76" fill="#3a3a3a"/><circle cx="489.0" cy="335.9" r="1.23" fill="#3a3a3a"/><rect x="487.24" y="337.52" width="3.52" height="1.76" fill="#3a3a3a"/><rect x="477.74" y="339.46" width="13.73" height="1.41" fill="#3a3a3a"/><circle cx="512.5" cy="305" r="3" fill="#3a3a3a"/><circle cx="512.5" cy="304.4" r="0.70" fill="#fff"/><path d="M511.15 306.30Q511.15 305.22 512.50 305.22Q513.85 305.22 513.85 306.30Z" fill="#fff"/><circle cx="551.5" cy="295.4" r="11.4" fill="#fff" stroke="#9a9a9a" stroke-width="0.5"/><circle cx="551.5" cy="295.4" r="8.6" fill="#fff" stroke="#555" stroke-width="0.9"/><circle cx="551.5" cy="295.4" r="6" fill="#3a3a3a"/><circle cx="551.5" cy="294.2" r="1.40" fill="#fff"/><path d="M548.80 297.99Q548.80 295.83 551.50 295.83Q554.20 295.83 554.20 297.99Z" fill="#fff"/><circle cx="526.7" cy="330.6" r="5.5" fill="#3a3a3a"/><circle cx="526.7" cy="329.5" r="1.29" fill="#fff"/><path d="M524.23 332.98Q524.23 331.00 526.70 331.00Q529.18 331.00 529.18 332.98Z" fill="#fff"/><circle cx="547.9" cy="320.6" r="2.7" fill="#3a3a3a"/><circle cx="560.2" cy="342.5" r="4" fill="#3a3a3a"/><circle cx="560.2" cy="341.7" r="0.94" fill="#fff"/><path d="M558.40 344.23Q558.40 342.79 560.20 342.79Q562.00 342.79 562.00 344.23Z" fill="#fff"/><circle cx="530.6" cy="364.6" r="11.4" fill="#fff" stroke="#9a9a9a" stroke-width="0.5"/><circle cx="530.6" cy="364.6" r="8.6" fill="#fff" stroke="#555" stroke-width="0.9"/><circle cx="530.6" cy="364.6" r="6" fill="#3a3a3a"/><circle cx="530.6" cy="363.4" r="1.40" fill="#fff"/><path d="M527.90 367.19Q527.90 365.03 530.60 365.03Q533.30 365.03 533.30 367.19Z" fill="#fff"/><circle cx="513.4" cy="389.9" r="7.5" fill="#3a3a3a"/><circle cx="513.4" cy="388.4" r="1.76" fill="#fff"/><path d="M510.02 393.14Q510.02 390.44 513.40 390.44Q516.77 390.44 516.77 393.14Z" fill="#fff"/><circle cx="492.4" cy="375.8" r="4" fill="#3a3a3a"/><circle cx="492.4" cy="375.0" r="0.94" fill="#fff"/><path d="M490.60 377.53Q490.60 376.09 492.40 376.09Q494.20 376.09 494.20 377.53Z" fill="#fff"/><circle cx="470.6" cy="369.6" r="3.5" fill="#3a3a3a"/><circle cx="470.6" cy="368.9" r="0.82" fill="#fff"/><path d="M469.03 371.11Q469.03 369.85 470.60 369.85Q472.18 369.85 472.18 371.11Z" fill="#fff"/><circle cx="452.4" cy="353.5" r="3.5" fill="#3a3a3a"/><circle cx="452.4" cy="352.8" r="0.82" fill="#fff"/><path d="M450.82 355.01Q450.82 353.75 452.40 353.75Q453.97 353.75 453.97 355.01Z" fill="#fff"/><circle cx="517" cy="345.7" r="3.5" fill="#3a3a3a"/><circle cx="517.0" cy="345.0" r="0.82" fill="#fff"/><path d="M515.42 347.21Q515.42 345.95 517.00 345.95Q518.58 345.95 518.58 347.21Z" fill="#fff"/><circle cx="475.6" cy="392.6" r="2.5" fill="#3a3a3a"/><circle cx="430.8" cy="342.4" r="2.5" fill="#3a3a3a"/><circle cx="537.1" cy="344.6" r="1.5" fill="#3a3a3a"/><circle cx="514" cy="318.5" r="1.5" fill="#3a3a3a"/><circle cx="369" cy="302.6" r="1.7" fill="#3a3a3a"/><circle cx="374.4" cy="305.9" r="1.7" fill="#3a3a3a"/><circle cx="377.1" cy="356" r="1.7" fill="#3a3a3a"/><circle cx="383.7" cy="356" r="1.7" fill="#3a3a3a"/><circle cx="441.6" cy="397.4" r="1.7" fill="#3a3a3a"/><circle cx="439.2" cy="404" r="1.7" fill="#3a3a3a"/><circle cx="572.2" cy="343.4" r="1.7" fill="#3a3a3a"/><circle cx="578.5" cy="343.4" r="1.7" fill="#3a3a3a"/><circle cx="523" cy="398" r="1.7" fill="#3a3a3a"/><circle cx="528.4" cy="401.3" r="1.7" fill="#3a3a3a"/><circle cx="481.5" cy="296" r="1.7" fill="#3a3a3a"/><circle cx="481.2" cy="289.6" r="1.7" fill="#3a3a3a"/></svg>
<div class="btn" style="left:78.9px;width:176.1px;background:#1b2f61"><span class="t bt" style="left:15.35px;top:15.00px;font-size:20.35px;color:#eef6fa;letter-spacing:1.306px;">North America</span></div>
<div class="btn" style="left:266px;width:171.0px;background:linear-gradient(90deg,#532d93,#47288a)"><span class="t bt" style="left:49.78px;top:15.00px;font-size:20.35px;color:#eef6fa;letter-spacing:1.040px;">Europe</span></div>
<div class="btn" style="left:446.8px;width:171.0px;background:#5151a9"><span class="t bt" style="left:27.27px;top:15.00px;font-size:20.35px;color:#eef6fa;letter-spacing:1.047px;">Asia-Pacific</span></div>
<div class="btn" style="left:628.4px;width:170.2px;background:#7b7adf"><span class="t bt" style="left:15.93px;top:15.00px;font-size:20.35px;color:#eef6fa;letter-spacing:1.163px;">Latin America</span></div>
<div class="btn" style="left:810px;width:170.2px;background:#9f9de5"><span class="t bt" style="left:56.85px;top:15.00px;font-size:20.35px;color:#eef6fa;letter-spacing:1.036px;">Africa</span></div>
</div>
</body>
</html>
